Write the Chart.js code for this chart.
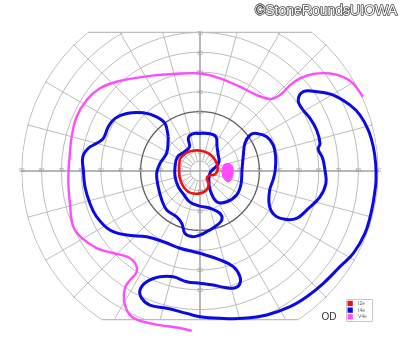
<!DOCTYPE html>
<html>
<head>
<meta charset="utf-8">
<script src="https://cdn.jsdelivr.net/npm/chart.js@4.4.1/dist/chart.umd.min.js"></script>
<style>
  body { margin: 0; background: #fff; }
  #wrap { width: 400px; height: 352px; position: relative; }
</style>
</head>
<body>
<div id="wrap"><canvas id="field"></canvas></div>
<script>
// Goldmann field grid (degrees)
const rings = [10, 20, 30, 40, 50, 60, 70, 80, 90];
const meridians = [0, 15, 30, 45, 60, 75, 90, 105, 120, 135, 150, 165, 180, 195, 210, 225, 240, 255, 270, 285, 300, 315, 330, 345];
const fieldTop = 70;
const fieldBottom = -75;
const hLabels = [10, 20, 30, 40, 50, 60, 70, 80, 90];
const upLabels = [10, 20, 30, 40, 50, 60, 70];
const downLabels = [10, 20, 30, 40, 50, 60];

// isopters, [x, y] in degrees
const isoI2e = [
  [-10.1, 6.4], [-7.1, 9.1], [-3.5, 10.3], [0.5, 10.3], [4.5, 8.8], [7.3, 6.1], [8.8, 2.5],
  [8.6, -0.5], [6.8, -2.0], [4.5, -2.3], [3.5, -3.8], [4.5, -6.6], [3.0, -9.8], [-0.5, -11.4],
  [-5.1, -10.9], [-8.1, -8.3], [-10.1, -4.0], [-10.6, 0.5], [-10.4, 4.0]
];

const isoI4e = [
  [-16.0, 17.3], [-16.8, 9.1], [-20.2, 3.9], [-21.9, -1.2], [-21.1, -7.9], [-19.3, -14.6],
  [-16.8, -19.7], [-11.8, -23.1], [-9.2, -26.4], [-7.6, -31.5], [-4.0, -33.1], [0, -32.3],
  [4.0, -30.3], [7.6, -28.1], [11.0, -24.7], [10.1, -21.4], [5.1, -18.8], [0, -17.7],
  [-5.1, -15.7], [-8.4, -11.6], [-11.0, -7.9], [-12.6, -2.9], [-12.6, 2.2], [-11.4, 7.1],
  [-8.1, 9.6], [-5.3, 12.3], [-5.9, 16.7], [-4.0, 18.7], [0, 19.0], [5.1, 18.8], [8.1, 17.2],
  [8.6, 12.3], [9.2, 8.1], [9.6, 4.5], [7.6, 1.8], [5.3, -0.5], [4.5, -3.5], [5.1, -9.6],
  [8.4, -15.5], [13.5, -15.5], [18.5, -12.1], [20.7, -6.6], [21.2, 0.5], [21.9, 8.1],
  [22.7, 14.0], [25.3, 18.2], [28.6, 19.0], [33.7, 17.3], [37.0, 13.1], [38.2, 7.2],
  [38.0, 0.5], [36.9, -4.5], [35.2, -9.6], [35.0, -17.2], [37.6, -22.2], [42.9, -24.4],
  [48.8, -23.9], [53.9, -19.7], [60.6, -13.0], [63.6, -6.2], [63.1, 0.5], [61.9, 6.6],
  [59.7, 11.1], [60.6, 14.0], [58.9, 20.7], [55.6, 26.6], [51.4, 31.7], [49.6, 35.9],
  [52.2, 40.1], [58.9, 40.1], [67.3, 38.4], [75.8, 33.3], [80.8, 28.3], [85.0, 20.7],
  [87.5, 12.3], [88.7, 3.9], [88.9, -4.5], [88.4, -9.6], [86.7, -19.7], [83.3, -31.5],
  [77.4, -41.6], [70.7, -48.3], [62.3, -56.7], [53.9, -63.5], [45.5, -68.5], [33.7, -72.7],
  [21.9, -74.4], [10.1, -74.4], [0, -73.6], [-6.7, -71.9], [-16.8, -69.3], [-25.3, -67.7],
  [-29.4, -64.3], [-30.3, -60.1], [-26.9, -55.9], [-20.2, -53.4], [-13.5, -53.4],
  [-6.7, -55.9], [0, -56.7], [6.7, -57.6], [11.8, -58.7], [16.8, -59.2], [19.8, -57.6],
  [20.2, -53.4], [16.8, -48.3], [10.1, -44.9], [0, -41.6], [-10.1, -39.0], [-18.5, -35.7],
  [-26.9, -33.2], [-37.0, -32.3], [-45.5, -29.8], [-52.2, -23.1], [-55.6, -16.3],
  [-58.1, -7.9], [-58.9, 0.5], [-59.2, 7.2], [-56.4, 11.5], [-52.2, 14.0], [-48.8, 16.5],
  [-46.3, 22.4], [-42.9, 26.6], [-37.0, 29.1], [-28.6, 29.4], [-21.9, 27.4], [-17.7, 24.1]
];

const isoV4e = [
  [-4.2, -80.7], [-10.1, -79.3], [-20.2, -77.8], [-28.8, -76.1], [-34.5, -73.6], [-37.0, -70.2],
  [-38.4, -65.2], [-37.9, -59.1], [-35.4, -55.1], [-32.0, -50.9], [-32.8, -46.5], [-36.4, -43.4],
  [-43.9, -41.4], [-52.2, -38.9], [-59.7, -33.8], [-64.0, -28.1], [-65.7, -16.2], [-66.5, -4.5],
  [-65.7, 9.1], [-64.8, 17.3], [-62.3, 27.4], [-57.2, 35.9], [-50.5, 41.8], [-42.1, 45.1],
  [-33.8, 46.8], [-25.3, 48.1], [-13.6, 49.0], [0, 49.3], [10.1, 46.8], [20.2, 42.6],
  [28.6, 38.4], [35.4, 36.4], [40.4, 38.4], [45.5, 43.4], [50.5, 46.8], [57.1, 49.0],
  [65.7, 49.3], [72.2, 47.6], [77.3, 44.3], [82.3, 37.5]
];

// small V4e island, temporal to fixation
const spotV4e = [
  [14.8, 3.9], [16.4, 2.5], [16.8, 0], [16.4, -3.0], [14.6, -5.4], [12.6, -4.5],
  [11.3, -2.0], [11.3, 1.5], [12.6, 3.5]
];

const legendNames = ['I2e', 'I4e', 'V4e'];
const legendColors = ['#ee1111', '#0a0ae6', '#ff4cff'];

function toPoints(arr, closed) {
  const pts = arr.map(p => ({ x: p[0], y: p[1] }));
  if (closed) pts.push({ x: arr[0][0], y: arr[0][1] });
  return pts;
}

const gridPlugin = {
  id: 'goldmannGrid',
  beforeDatasetsDraw(chart) {
    const { ctx, scales: { x, y } } = chart;
    const cx = x.getPixelForValue(0);
    const cy = y.getPixelForValue(0);
    const k = x.getPixelForValue(1) - cx;
    const top = y.getPixelForValue(fieldTop);
    const bottom = y.getPixelForValue(fieldBottom);

    ctx.save();
    ctx.beginPath();
    ctx.rect(0, top, chart.width, bottom - top);
    ctx.clip();
    ctx.beginPath();
    ctx.arc(cx, cy, 90 * k + 0.6, 0, Math.PI * 2);
    ctx.clip();

    // meridians
    ctx.strokeStyle = '#bdbdbd';
    ctx.lineWidth = 1;
    meridians.forEach(a => {
      const t = a * Math.PI / 180;
      ctx.beginPath();
      ctx.moveTo(cx + Math.cos(t) * 5 * k, cy - Math.sin(t) * 5 * k);
      ctx.lineTo(cx + Math.cos(t) * 95 * k, cy - Math.sin(t) * 95 * k);
      ctx.stroke();
    });

    // rings
    [5].concat(rings).forEach(r => {
      ctx.beginPath();
      ctx.arc(cx, cy, r * k, 0, Math.PI * 2);
      ctx.strokeStyle = r === 30 ? '#5e5e5e' : '#bdbdbd';
      ctx.lineWidth = r === 30 ? 1.3 : 1;
      ctx.stroke();
    });

    // main axes
    ctx.strokeStyle = '#ababab';
    ctx.lineWidth = 1.5;
    ctx.beginPath();
    ctx.moveTo(cx - 92 * k, cy); ctx.lineTo(cx + 92 * k, cy);
    ctx.moveTo(cx, top); ctx.lineTo(cx, bottom);
    ctx.stroke();
    ctx.restore();

    // flat top / bottom borders of the field
    ctx.save();
    ctx.strokeStyle = '#bdbdbd';
    ctx.lineWidth = 1.2;
    const wTop = Math.sqrt(90 * 90 - fieldTop * fieldTop) * k;
    const wBot = Math.sqrt(90 * 90 - fieldBottom * fieldBottom) * k;
    ctx.beginPath();
    ctx.moveTo(cx - wTop, top); ctx.lineTo(cx + wTop, top);
    ctx.moveTo(cx - wBot, bottom); ctx.lineTo(cx + wBot, bottom);
    ctx.stroke();

    // degree labels
    ctx.fillStyle = '#9a9a9a';
    ctx.font = '5px "Liberation Sans", Arial, sans-serif';
    ctx.textAlign = 'center';
    ctx.textBaseline = 'middle';
    hLabels.forEach(v => {
      ctx.fillText(String(v), x.getPixelForValue(-v), cy);
      ctx.fillText(String(v), x.getPixelForValue(v), cy);
    });
    upLabels.forEach(v => ctx.fillText(String(v), cx, y.getPixelForValue(v) + 1));
    downLabels.forEach(v => ctx.fillText(String(v), cx, y.getPixelForValue(-v) + 1));
    ctx.restore();
  },
  afterDraw(chart) {
    const ctx = chart.ctx;
    ctx.save();
    // watermark, outlined letters
    ctx.font = '14px "Liberation Sans", Arial, sans-serif';
    ctx.textAlign = 'right';
    ctx.textBaseline = 'alphabetic';
    ctx.lineJoin = 'round';
    ctx.lineWidth = 1.6;
    ctx.strokeStyle = '#4a4a4a';
    ctx.strokeText('\u00A9StoneRoundsUIOWA', 397, 14.5);
    ctx.fillStyle = '#fff';
    ctx.fillText('\u00A9StoneRoundsUIOWA', 397, 14.5);

    // eye
    ctx.fillStyle = '#333';
    ctx.font = '10px "Liberation Sans", Arial, sans-serif';
    ctx.textAlign = 'left';
    ctx.fillText('OD', 321.5, 320);

    // legend
    ctx.fillStyle = '#fff';
    ctx.strokeStyle = '#c8c8c8';
    ctx.lineWidth = 1;
    ctx.fillRect(346, 299, 27, 23);
    ctx.strokeRect(346.5, 299.5, 26, 22);
    ctx.font = '5px "Liberation Sans", Arial, sans-serif';
    ctx.textBaseline = 'middle';
    legendNames.forEach((name, i) => {
      const yy = 303.5 + i * 6.7;
      ctx.fillStyle = legendColors[i];
      ctx.fillRect(347.5, yy - 2.7, 5.3, 5.3);
      ctx.fillStyle = '#666';
      ctx.fillText(name, 358, yy);
    });
    ctx.restore();
  }
};

const lineStyle = { showLine: true, pointRadius: 0, pointHoverRadius: 0, tension: 0.4, fill: false };

new Chart(document.getElementById('field'), {
  type: 'scatter',
  data: {
    datasets: [
      Object.assign({ label: 'I2e', data: toPoints(isoI2e, true), borderColor: legendColors[0], borderWidth: 2.6 }, lineStyle),
      Object.assign({ label: 'I4e', data: toPoints(isoI4e, true), borderColor: legendColors[1], borderWidth: 3 }, lineStyle),
      Object.assign({ label: 'V4e', data: toPoints(isoV4e, false), borderColor: legendColors[2], borderWidth: 2.4 }, lineStyle),
      Object.assign({}, lineStyle, { label: 'V4e spot', data: toPoints(spotV4e, true), borderColor: legendColors[2], backgroundColor: legendColors[2], borderWidth: 1, fill: 'shape' })
    ]
  },
  options: {
    responsive: true,
    maintainAspectRatio: false,
    animation: false,
    layout: { padding: 0 },
    scales: {
      x: { type: 'linear', min: -101, max: 101, display: false },
      y: { type: 'linear', min: -91.4, max: 86.4, display: false }
    },
    plugins: {
      legend: { display: false },
      tooltip: { enabled: false }
    }
  },
  plugins: [gridPlugin]
});
</script>
</body>
</html>
